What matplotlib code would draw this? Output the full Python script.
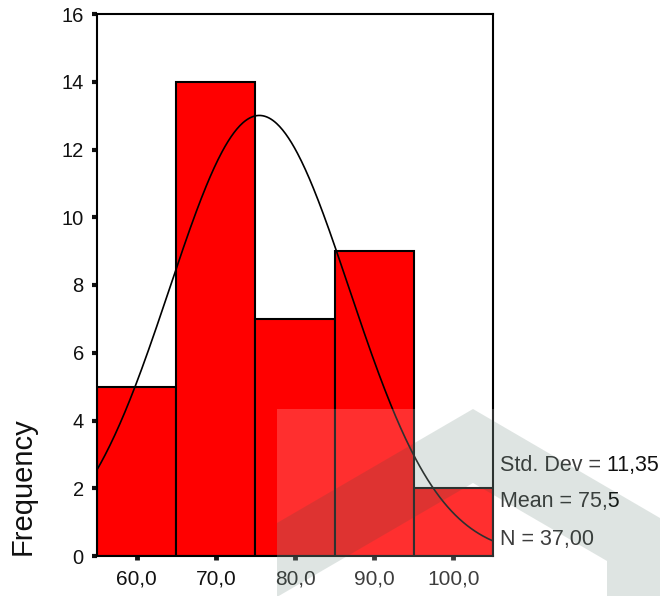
import numpy as np
import matplotlib
matplotlib.use("Agg")
import matplotlib.pyplot as plt
from matplotlib.patches import Polygon, Rectangle

# 数据
bin_edges = [55, 65, 75, 85, 95, 105]
counts = [5, 14, 7, 9, 2]
x_ticks = [60, 70, 80, 90, 100]
x_tick_labels = ["60,0", "70,0", "80,0", "90,0", "100,0"]
y_ticks = [0, 2, 4, 6, 8, 10, 12, 14, 16]
std_dev = 11.35
mean = 75.5
n_obs = 37
stat_labels = ["Std. Dev = 11,35", "Mean = 75,5", "N = 37,00"]

plt.rcParams["font.family"] = ["Liberation Sans", "DejaVu Sans"]

W, H = 660, 596
fig = plt.figure(figsize=(W / 100, H / 100), dpi=100)


def fx(px):
    return px / W


def fy(py):
    return 1 - py / H


ax = fig.add_axes([fx(97), fy(556), fx(493) - fx(97), fy(14) - fy(556)])

# 直方图
widths = np.diff(bin_edges)
ax.bar(bin_edges[:-1], counts, width=widths, align="edge",
       color="#ff0000", edgecolor="black", linewidth=1.5, zorder=2)

# 正态曲线
bw = widths[0]
xs = np.linspace(bin_edges[0], bin_edges[-1], 400)
ys = n_obs * bw / (std_dev * np.sqrt(2 * np.pi)) * np.exp(-0.5 * ((xs - mean) / std_dev) ** 2)
ax.plot(xs, ys, color="black", linewidth=1.2, zorder=3)

ax.set_xlim(bin_edges[0], bin_edges[-1])
ax.set_ylim(0, 16)
ax.set_xticks(x_ticks)
ax.set_xticklabels(x_tick_labels)
ax.set_yticks(y_ticks)
for s in ax.spines.values():
    s.set_linewidth(1.5)
    s.set_zorder(4)
ax.tick_params(axis="x", length=3, width=3.5, pad=7, labelsize=15, colors="#111111")
ax.tick_params(axis="y", length=3.5, width=3, pad=6, labelsize=14.5, colors="#111111")

fig.text(fx(23), fy(486), "Frequency", rotation=90, ha="center", va="center",
         fontsize=21, color="#111111")

for i, lab in enumerate(stat_labels):
    fig.text(fx(500), fy(465 + 37 * i), lab, ha="left", va="center",
             fontsize=15.5, color="#111111")

# 水印（半透明）
fig.add_artist(Rectangle((fx(277), fy(596)), fx(607) - fx(277), fy(409) - fy(596),
                         transform=fig.transFigure, facecolor="white", alpha=0.19,
                         edgecolor="none", zorder=10))
band = [(277, 523), (473, 409), (660, 518), (660, 596), (607, 596), (607, 561),
        (473, 483), (277, 597)]
fig.add_artist(Polygon([(fx(a), fy(b)) for a, b in band], closed=True,
                       transform=fig.transFigure, facecolor="#285040", alpha=0.15,
                       edgecolor="none", zorder=11))

fig.savefig("out.png", dpi=100, facecolor="white")
